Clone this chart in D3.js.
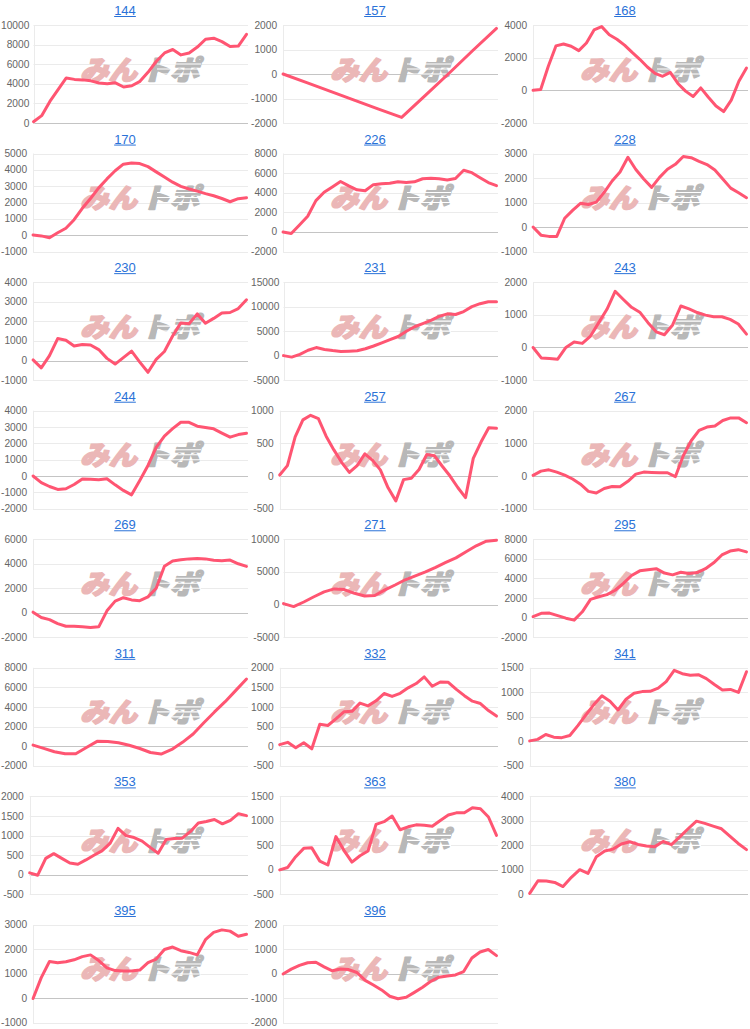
<!DOCTYPE html>
<html lang="ja">
<head>
<meta charset="UTF-8" />
<title>収支グラフ一覧</title>
<style>
  body { margin: 0; background: #fff; }
  svg { display: block; }
  .tick-label { font-family: "Liberation Sans", Arial, sans-serif; font-size: 10.2px; fill: #666; }
  .title { font-family: "Liberation Sans", Arial, sans-serif; font-size: 13px; fill: #2a72d8; }
</style>
</head>
<body>
<svg id="chart" width="750" height="1029" viewBox="0 0 750 1029" xmlns="http://www.w3.org/2000/svg"></svg>

<script src="https://d3js.org/d3.v7.min.js"></script>
<script>
// chart titles, in reading order
const titles = ["144", "157", "168", "170", "226", "228", "230", "231", "243", "244", "257", "267",
                "269", "271", "295", "311", "332", "341", "353", "363", "380", "395", "396"];

// y axis [min, max, step] per chart
const yRanges = [
  [0, 10000, 2000], [-2000, 2000, 1000], [-2000, 4000, 2000],
  [-1000, 5000, 1000], [-2000, 8000, 2000], [-1000, 3000, 1000],
  [-1000, 4000, 1000], [-5000, 15000, 5000], [-1000, 2000, 1000],
  [-2000, 4000, 1000], [-500, 1000, 500], [-1000, 2000, 1000],
  [-2000, 6000, 2000], [-5000, 10000, 5000], [-2000, 8000, 2000],
  [-2000, 8000, 2000], [-500, 2000, 500], [-500, 1500, 500],
  [-500, 2000, 500], [-500, 1500, 500], [0, 4000, 1000],
  [-1000, 3000, 1000], [-2000, 2000, 1000]
];

// running balance per chart
const s144 = [130, 750, 2200, 3400, 4600, 4450, 4400, 4300, 4080, 4000, 4100, 3670, 3800, 4250, 5200, 6300, 7150, 7500, 6950, 7150, 7750, 8550, 8650, 8300, 7800, 7850, 9050];
const s157 = [0, -355, -710, -1065, -1420, -1770, -870, 30, 960, 1860];
const s168 = [0, 50, 1470, 2720, 2840, 2700, 2430, 2900, 3700, 3900, 3400, 3130, 2770, 2320, 1900, 1430, 1040, 860, 1100, 420, -50, -380, 150, -420, -960, -1300, -600, 560, 1370];
const s170 = [20, -40, -150, 150, 430, 950, 1650, 2250, 2900, 3450, 3950, 4350, 4420, 4390, 4200, 3880, 3560, 3250, 2990, 2830, 2700, 2550, 2420, 2250, 2050, 2240, 2300];
const s226 = [0, -160, 720, 1600, 3200, 4050, 4600, 5150, 4700, 4300, 4200, 4830, 4920, 4970, 5130, 5050, 5120, 5430, 5480, 5420, 5300, 5450, 6300, 6050, 5540, 5040, 4730];
const s228 = [0, -330, -380, -380, 360, 680, 970, 920, 1020, 1420, 1880, 2250, 2850, 2350, 1960, 1620, 2030, 2360, 2560, 2880, 2830, 2680, 2550, 2330, 1960, 1590, 1400, 1200];
const s230 = [30, -370, 250, 1120, 1040, 740, 820, 790, 560, 110, -180, 150, 480, -80, -600, 60, 460, 1250, 1920, 1880, 2380, 1900, 2150, 2430, 2450, 2650, 3100];
const s231 = [0, -300, 250, 1100, 1650, 1270, 1030, 830, 900, 1000, 1400, 1970, 2600, 3270, 3910, 4980, 5900, 6540, 7200, 8000, 8530, 8400, 9000, 10000, 10600, 11000, 11000];
const s243 = [0, -320, -340, -360, 0, 170, 125, 350, 760, 1170, 1720, 1470, 1230, 1080, 760, 480, 390, 690, 1270, 1180, 1070, 990, 940, 940, 860, 720, 410];
const s244 = [0, -400, -640, -820, -780, -520, -180, -190, -220, -170, -540, -880, -1150, -270, 650, 1750, 2450, 2900, 3290, 3290, 3050, 2970, 2890, 2630, 2380, 2540, 2620];
const s257 = [15, 160, 600, 860, 930, 880, 610, 400, 210, 55, 160, 340, 240, 95, -180, -380, -55, -35, 100, 330, 310, 150, 0, -175, -330, 270, 520, 740, 730];
const s267 = [20, 150, 190, 120, 30, -90, -250, -470, -520, -380, -320, -330, -160, 60, 120, 110, 100, 100, -20, 620, 1080, 1400, 1500, 1530, 1700, 1780, 1780, 1630];
const s269 = [50, -380, -560, -880, -1100, -1100, -1150, -1200, -1150, 160, 950, 1230, 1050, 990, 1300, 2000, 3800, 4230, 4320, 4400, 4440, 4400, 4280, 4250, 4300, 4000, 3790];
const s271 = [150, -300, 400, 1200, 1950, 2400, 2300, 1730, 1330, 1400, 2250, 3000, 3800, 4400, 5000, 5700, 6450, 7150, 8100, 9000, 9700, 9850];
const s295 = [100, 440, 470, 210, -50, -250, 600, 1870, 2130, 2350, 2800, 3500, 4300, 4780, 4900, 5000, 4550, 4370, 4630, 4500, 4600, 5000, 5600, 6400, 6800, 6940, 6710];
const s311 = [120, -220, -560, -760, -760, -120, 500, 480, 350, 100, -230, -640, -800, -330, 400, 1250, 2400, 3500, 4550, 5700, 6860];
const s332 = [40, 100, -40, 90, -65, 560, 530, 700, 880, 890, 1100, 1030, 1160, 1345, 1270, 1350, 1490, 1600, 1770, 1530, 1640, 1630, 1450, 1290, 1150, 1090, 910, 770];
const s341 = [10, 40, 140, 85, 75, 120, 320, 540, 750, 930, 820, 640, 860, 980, 1015, 1020, 1085, 1220, 1450, 1380, 1350, 1360, 1280, 1160, 1050, 1060, 1000, 1420];
const s353 = [50, -10, 420, 540, 420, 300, 270, 380, 500, 610, 800, 1185, 1000, 950, 860, 700, 550, 900, 925, 935, 1100, 1320, 1360, 1410, 1300, 1390, 1560, 1510];
const s363 = [0, 50, 270, 440, 450, 180, 100, 680, 400, 160, 290, 385, 930, 985, 1100, 820, 880, 920, 910, 890, 1010, 1120, 1165, 1165, 1270, 1250, 1080, 705];
const s380 = [40, 560, 550, 490, 320, 700, 1010, 860, 1540, 1770, 1850, 2060, 2150, 2040, 1980, 1950, 2160, 2030, 2350, 2680, 2990, 2900, 2790, 2680, 2380, 2080, 1830];
const s395 = [0, 850, 1510, 1460, 1500, 1580, 1710, 1780, 1550, 1250, 1140, 1120, 1120, 1160, 1460, 1610, 2000, 2100, 1950, 1880, 1780, 2400, 2700, 2800, 2750, 2540, 2620];
const s396 = [0, 200, 350, 460, 480, 290, 130, 200, 180, 60, -260, -450, -650, -910, -1010, -950, -750, -540, -300, -130, -80, -40, 100, 650, 900, 1000, 750];

const seriesList = [s144, s157, s168, s170, s226, s228, s230, s231, s243, s244, s257, s267,
                    s269, s271, s295, s311, s332, s341, s353, s363, s380, s395, s396];

const svg = d3.select("#chart");
const colW = 250;
const firstTop = 25;
const rowStep = 128.57;
const plotH = 98;

// hidden text to measure label widths
const measure = svg.append("text").attr("class", "tick-label").attr("opacity", 0);
function textWidth(s) {
  measure.text(s);
  return measure.node().getComputedTextLength();
}

// watermark first so the lines sit on top
function drawWatermark(g, cx, cy) {
  const wm = g.append("g").attr("class", "watermark");
  const parts = [
    { t: "みん", x: cx - 59, w: 57, c: "#ebb7b7" },
    { t: "トポ", x: cx + 2, w: 58, c: "#b8b8b8" }
  ];
  parts.forEach(p => {
    wm.append("text")
      .attr("x", p.x).attr("y", cy)
      .attr("dominant-baseline", "central")
      .attr("textLength", p.w).attr("lengthAdjust", "spacingAndGlyphs")
      .style("font-family", "'Noto Sans CJK JP', sans-serif")
      .style("font-weight", 900).style("font-style", "italic")
      .style("font-size", "27px")
      .attr("fill", p.c)
      .attr("stroke", p.c).attr("stroke-width", 1.6)
      .attr("stroke-linejoin", "round")
      .text(p.t);
  });
  // speed stripes across トポ
  [-4, 1, 6].forEach(dy => {
    wm.append("line")
      .attr("x1", cx + 18).attr("x2", cx + 62)
      .attr("y1", cy + dy).attr("y2", cy + dy)
      .attr("stroke", "#fff").attr("stroke-width", 1.1);
  });
}

seriesList.forEach((data, i) => {
  const col = i % 3;
  const row = Math.floor(i / 3);
  const x0 = col * colW;
  const top = firstTop + row * rowStep;
  const bottom = top + plotH;
  const [yMin, yMax, step] = yRanges[i];
  const ticks = d3.range(yMin, yMax + step / 2, step);

  const maxW = d3.max(ticks, t => textWidth(String(t)));
  const left = x0 + Math.min(33.5, maxW + 7);
  const right = x0 + 246.5;
  const labelX = Math.max(left - 6.5, x0 + maxW + 1);

  const y = d3.scaleLinear().domain([yMin, yMax]).range([bottom, top]);
  const x = d3.scaleLinear().domain([0, data.length - 1]).range([left, right]);

  const g = svg.append("g");

  // grid
  g.selectAll("line.grid")
    .data(ticks)
    .enter().append("line")
    .attr("class", "grid")
    .attr("x1", left).attr("x2", x0 + 248)
    .attr("y1", d => Math.round(y(d)) + 0.5)
    .attr("y2", d => Math.round(y(d)) + 0.5)
    .attr("stroke", d => d === 0 ? "#c4c4c4" : "#ebebeb")
    .attr("stroke-width", 1);

  // y axis line
  g.append("line")
    .attr("x1", Math.round(left) + 0.5).attr("x2", Math.round(left) + 0.5)
    .attr("y1", top).attr("y2", bottom + 0.5)
    .attr("stroke", "#ebebeb");

  // tick labels
  g.selectAll("text.tick-label")
    .data(ticks)
    .enter().append("text")
    .attr("class", "tick-label")
    .attr("x", labelX)
    .attr("y", d => y(d))
    .attr("text-anchor", "end")
    .attr("dominant-baseline", "central")
    .text(d => d);

  // title (link style)
  const cx = x0 + 125;
  const title = g.append("text")
    .attr("class", "title")
    .attr("x", cx).attr("y", top - 10)
    .attr("text-anchor", "middle")
    .text(titles[i]);
  const tw = title.node().getComputedTextLength();
  g.append("line")
    .attr("x1", cx - tw / 2).attr("x2", cx + tw / 2)
    .attr("y1", top - 8.5).attr("y2", top - 8.5)
    .attr("stroke", "#2a72d8").attr("stroke-width", 1);

  drawWatermark(g, x0 + 139, top + 43);

  const line = d3.line()
    .x((d, k) => x(k))
    .y(d => y(d));

  g.append("path")
    .datum(data)
    .attr("d", line)
    .attr("fill", "none")
    .attr("stroke", "#ff5572")
    .attr("stroke-width", 3)
    .attr("stroke-linejoin", "round")
    .attr("stroke-linecap", "round");
});

measure.remove();
</script>
</body>
</html>
